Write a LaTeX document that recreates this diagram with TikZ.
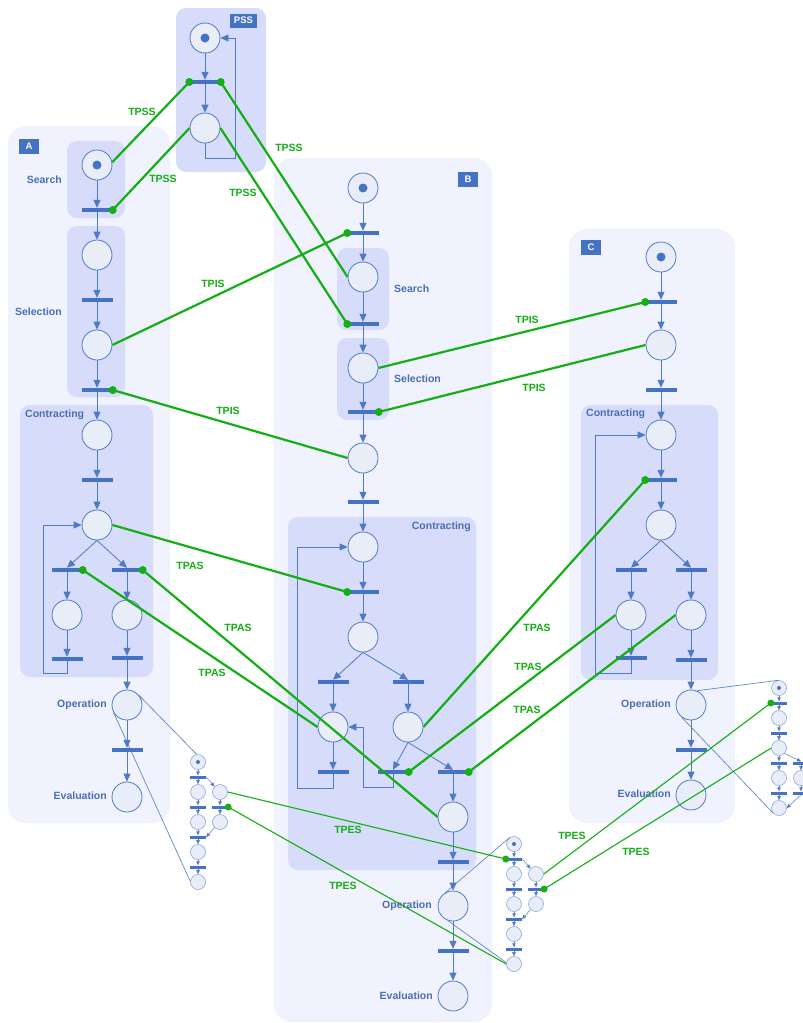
\documentclass[tikz,border=0pt]{standalone}
\usepackage{fontspec}
\setmainfont{Liberation Sans}
\usetikzlibrary{arrows.meta}
\definecolor{panelbg}{RGB}{240,242,253}
\definecolor{groupbg}{RGB}{214,220,250}
\definecolor{pfill}{RGB}{232,237,247}
\definecolor{pborder}{RGB}{79,122,198}
\definecolor{mborder}{RGB}{140,168,218}
\definecolor{tblue}{RGB}{68,114,196}
\definecolor{tx}{RGB}{74,110,180}
\definecolor{gr}{RGB}{20,175,20}
\newcommand\miniAB[3]{%
 \node[mplace] (#1p0) at (#2,#3) {};
 \node[mtok] (#1k) at (#2,#3) {};
 \node[mtrans] (#1t1) at (#2,#3+15) {};
 \node[mplace] (#1p1) at (#2,#3+30) {};
 \node[mplace] (#1q1) at (#2+22,#3+30) {};
 \node[mtrans] (#1t2) at (#2,#3+45) {};
 \node[mtrans] (#1u2) at (#2+22,#3+45) {};
 \node[mplace] (#1p2) at (#2,#3+60) {};
 \node[mplace] (#1q2) at (#2+22,#3+60) {};
 \node[mtrans] (#1t3) at (#2,#3+75) {};
 \node[mplace] (#1p3) at (#2,#3+90) {};
 \node[mtrans] (#1t4) at (#2,#3+105) {};
 \node[mplace] (#1p4) at (#2,#3+120) {};
 \draw[marc] (#1p0) -- (#1t1.north);
 \draw[marc] (#1t1.south) -- (#1p1);
 \draw[marc] (#1p1) -- (#1t2.north);
 \draw[marc] (#1t2.south) -- (#1p2);
 \draw[marc] (#1p2) -- (#1t3.north);
 \draw[marc] (#1t3.south) -- (#1p3);
 \draw[marc] (#1p3) -- (#1t4.north);
 \draw[marc] (#1t4.south) -- (#1p4);
 \draw[marc] (#1t1.east) -- (#1q1.north west);
 \draw[marc] (#1q1) -- (#1u2.north);
 \draw[marc] (#1u2.south) -- (#1q2);
 \draw[marc] (#1q2.south west) -- (#1t3.east);
}
\begin{document}
\begin{tikzpicture}[x=1pt,y=-1pt,
 panel/.style={fill=panelbg, rounded corners=18pt},
 group/.style={fill=groupbg, rounded corners=10pt},
 place/.style={circle, draw=pborder, fill=pfill, line width=0.8pt, minimum size=30pt, inner sep=0pt},
 tok/.style={circle, fill=tblue, minimum size=9pt, inner sep=0pt},
 trans/.style={rectangle, fill=tblue, minimum width=31pt, minimum height=4pt, inner sep=0pt},
 mplace/.style={circle, draw=mborder, fill=pfill, line width=0.6pt, minimum size=15pt, inner sep=0pt},
 mtok/.style={circle, fill=tblue, minimum size=4pt, inner sep=0pt},
 mtrans/.style={rectangle, fill=tblue, minimum width=16pt, minimum height=3pt, inner sep=0pt},
 arc/.style={draw=pborder, line width=0.8pt, -{Triangle[length=8pt,width=7pt]}},
 marc/.style={draw=pborder, line width=0.5pt, -{Triangle[length=4pt,width=3.5pt]}},
 refl/.style={draw=pborder, line width=0.6pt},
 gl/.style={draw=gr, line width=2.2pt},
 gthin/.style={draw=gr, line width=1.1pt},
 gdot/.style={circle, fill=gr, minimum size=8pt, inner sep=0pt},
 mgdot/.style={circle, fill=gr, minimum size=7pt, inner sep=0pt},
 glab/.style={text=gr, inner sep=0pt, font=\fontsize{10.5}{12}\selectfont\bfseries},
 blab/.style={text=tx, inner sep=0pt, font=\fontsize{10.5}{12}\selectfont\bfseries},
 tag/.style={fill=tblue, text=white, inner sep=0pt, minimum width=20pt, minimum height=15pt, font=\fontsize{9.5}{11}\selectfont\bfseries}
]
\useasboundingbox (0,0) rectangle (803,1023);
\fill[white] (0,0) rectangle (803,1023);
% panels
\fill[panel] (8,126) rectangle (170,823);
\fill[panel] (274,158) rectangle (492,1022);
\fill[panel] (569,229) rectangle (735,823);
\fill[group] (176,8) rectangle (266,172);
% groups
\fill[group] (67,141) rectangle (125,218);
\fill[group] (67,226) rectangle (125,397);
\fill[group] (20,405) rectangle (153,677);
\fill[group] (337,248) rectangle (389,330);
\fill[group] (337,338) rectangle (389,420);
\fill[group] (288,517) rectangle (476,870);
\fill[group] (581,405) rectangle (718,680);
% tags
\node[tag, minimum width=27pt, minimum height=14pt] (tpss) at (243.5,20.5) {PSS};
\node[tag] (ta) at (29,146.5) {A};
\node[tag] (tb) at (468,179) {B};
\node[tag] (tc) at (591,247) {C};
% labels
\node[blab, anchor=east] (la1) at (62,180) {Search};
\node[blab, anchor=east] (la2) at (62,312) {Selection};
\node[blab, anchor=west] (la3) at (25,415) {Contracting};
\node[blab, anchor=east] (la4) at (107,705) {Operation};
\node[blab, anchor=east] (la5) at (107,796) {Evaluation};
\node[blab, anchor=west] (lb1) at (394,289) {Search};
\node[blab, anchor=west] (lb2) at (394,379) {Selection};
\node[blab, anchor=east] (lb3) at (471,527) {Contracting};
\node[blab, anchor=east] (lb4) at (432,906) {Operation};
\node[blab, anchor=east] (lb5) at (433,996) {Evaluation};
\node[blab, anchor=west] (lc3) at (586,414) {Contracting};
\node[blab, anchor=east] (lc4) at (671,705) {Operation};
\node[blab, anchor=east] (lc5) at (671,794) {Evaluation};
% PSS net
\node[place] (s1) at (205,38) {};
\node[tok] (sk) at (205,38) {};
\node[trans] (st1) at (205,82) {};
\node[place] (s2) at (205,128) {};
\draw[arc] (s1) -- (st1.north);
\draw[arc] (st1.south) -- (s2);
\draw[arc] (s2.south) -- (205,158) -- (235,158) -- (235,38) -- (s1.east);
% A net
\node[place] (a1) at (97,165) {};
\node[tok] (ak) at (97,165) {};
\node[trans] (at1) at (97,210) {};
\node[place] (a2) at (97,255) {};
\node[trans] (at2) at (97,300) {};
\node[place] (a3) at (97,345) {};
\node[trans] (at3) at (97,390) {};
\node[place] (a4) at (97,435) {};
\node[trans] (at4) at (97,480) {};
\node[place] (a5) at (97,525) {};
\node[trans] (at5l) at (67,570) {};
\node[trans] (at5r) at (127,570) {};
\node[place] (a6) at (67,615) {};
\node[place] (a7) at (127,615) {};
\node[trans] (at7) at (67,659) {};
\node[trans] (at8) at (127,658) {};
\node[place] (a8) at (127,705) {};
\node[trans] (at9) at (127,750) {};
\node[place] (a9) at (127,797) {};
\draw[arc] (a1) -- (at1.north);
\draw[arc] (at1.south) -- (a2);
\draw[arc] (a2) -- (at2.north);
\draw[arc] (at2.south) -- (a3);
\draw[arc] (a3) -- (at3.north);
\draw[arc] (at3.south) -- (a4);
\draw[arc] (a4) -- (at4.north);
\draw[arc] (at4.south) -- (a5);
\draw[arc] (a5.south) -- (at5l.north);
\draw[arc] (a5.south) -- (at5r.north);
\draw[arc] (at5l.south) -- (a6);
\draw[arc] (at5r.south) -- (a7);
\draw[arc] (a6) -- (at7.north);
\draw[arc] (a7) -- (at8.north);
\draw[arc] (at8.south) -- (a8);
\draw[arc] (a8) -- (at9.north);
\draw[arc] (at9.south) -- (a9);
\draw[arc] (at7.south) -- (67,673) -- (43,673) -- (43,525) -- (a5.west);
% B net
\node[place] (b1) at (363,188) {};
\node[tok] (bk) at (363,188) {};
\node[trans] (bt1) at (363,233) {};
\node[place] (b2) at (363,277) {};
\node[trans] (bt2) at (363,324) {};
\node[place] (b3) at (363,368) {};
\node[trans] (bt3) at (363,412) {};
\node[place] (b4) at (363,458) {};
\node[trans] (bt4) at (363,502) {};
\node[place] (b5) at (363,547) {};
\node[trans] (bt5) at (363,592) {};
\node[place] (b6) at (363,637) {};
\node[trans] (bt6l) at (333,682) {};
\node[trans] (bt6r) at (408,682) {};
\node[place] (b7) at (333,727) {};
\node[place] (b8) at (408,727) {};
\node[trans] (bt7) at (333,772) {};
\node[trans] (bt8) at (393,772) {};
\node[trans] (bt9) at (453,772) {};
\node[place] (b9) at (453,817) {};
\node[trans] (bt10) at (453,862) {};
\node[place] (b10) at (453,906) {};
\node[trans] (bt11) at (453,951) {};
\node[place] (b11) at (453,996) {};
\draw[arc] (b1) -- (bt1.north);
\draw[arc] (bt1.south) -- (b2);
\draw[arc] (b2) -- (bt2.north);
\draw[arc] (bt2.south) -- (b3);
\draw[arc] (b3) -- (bt3.north);
\draw[arc] (bt3.south) -- (b4);
\draw[arc] (b4) -- (bt4.north);
\draw[arc] (bt4.south) -- (b5);
\draw[arc] (b5) -- (bt5.north);
\draw[arc] (bt5.south) -- (b6);
\draw[arc] (b6.south) -- (bt6l.north);
\draw[arc] (b6.south) -- (bt6r.north);
\draw[arc] (bt6l.south) -- (b7);
\draw[arc] (bt6r.south) -- (b8);
\draw[arc] (b7) -- (bt7.north);
\draw[arc] (b8.south) -- (bt8.north);
\draw[arc] (b8.south) -- (bt9.north);
\draw[arc] (bt9.south) -- (b9);
\draw[arc] (b9) -- (bt10.north);
\draw[arc] (bt10.south) -- (b10);
\draw[arc] (b10) -- (bt11.north);
\draw[arc] (bt11.south) -- (b11);
\draw[arc] (bt7.south) -- (333,788) -- (297,788) -- (297,547) -- (b5.west);
\draw[arc] (bt8.south) -- (393,787) -- (363,787) -- (363,727) -- (b7.east);
% C net
\node[place] (c1) at (661,257) {};
\node[tok] (ck) at (661,257) {};
\node[trans] (ct1) at (661,302) {};
\node[place] (c2) at (661,345) {};
\node[trans] (ct2) at (661,390) {};
\node[place] (c3) at (661,435) {};
\node[trans] (ct3) at (661,480) {};
\node[place] (c4) at (661,525) {};
\node[trans] (ct4l) at (631,570) {};
\node[trans] (ct4r) at (691,570) {};
\node[place] (c5) at (631,615) {};
\node[place] (c6) at (691,615) {};
\node[trans] (ct5) at (631,658) {};
\node[trans] (ct6) at (691,660) {};
\node[place] (c7) at (691,705) {};
\node[trans] (ct7) at (691,750) {};
\node[place] (c8) at (691,795) {};
\draw[arc] (c1) -- (ct1.north);
\draw[arc] (ct1.south) -- (c2);
\draw[arc] (c2) -- (ct2.north);
\draw[arc] (ct2.south) -- (c3);
\draw[arc] (c3) -- (ct3.north);
\draw[arc] (ct3.south) -- (c4);
\draw[arc] (c4.south) -- (ct4l.north);
\draw[arc] (c4.south) -- (ct4r.north);
\draw[arc] (ct4l.south) -- (c5);
\draw[arc] (ct4r.south) -- (c6);
\draw[arc] (c5) -- (ct5.north);
\draw[arc] (c6) -- (ct6.north);
\draw[arc] (ct6.south) -- (c7);
\draw[arc] (c7) -- (ct7.north);
\draw[arc] (ct7.south) -- (c8);
\draw[arc] (ct5.south) -- (631,673) -- (595,673) -- (595,435) -- (c3.west);
% mini nets
\miniAB{mA}{198}{762}
\miniAB{mB}{514}{844}
\node[mplace] (mCp0) at (779,688) {};
\node[mtok] (mCk) at (779,688) {};
\node[mtrans] (mCt1) at (779,703) {};
\node[mplace] (mCp1) at (779,718) {};
\node[mtrans] (mCt2) at (779,733) {};
\node[mplace] (mCp2) at (779,748) {};
\node[mtrans] (mCt3) at (779,763) {};
\node[mtrans] (mCu3) at (801,763) {};
\node[mplace] (mCp3) at (779,778) {};
\node[mplace] (mCq3) at (801,778) {};
\node[mtrans] (mCt4) at (779,793) {};
\node[mtrans] (mCu4) at (801,793) {};
\node[mplace] (mCp4) at (779,808) {};
\draw[marc] (mCp0) -- (mCt1.north);
\draw[marc] (mCt1.south) -- (mCp1);
\draw[marc] (mCp1) -- (mCt2.north);
\draw[marc] (mCt2.south) -- (mCp2);
\draw[marc] (mCp2) -- (mCt3.north);
\draw[marc] (mCt3.south) -- (mCp3);
\draw[marc] (mCp3) -- (mCt4.north);
\draw[marc] (mCt4.south) -- (mCp4);
\draw[marc] (mCp2.south east) -- (mCu3.north);
\draw[marc] (mCu3.south) -- (mCq3);
\draw[marc] (mCq3) -- (mCu4.north);
\draw[marc] (mCu4.south) -- (mCp4.east);
% refinement lines
\draw[refl] (a8.40) -- (mAp0.100);
\draw[refl] (a8.210) -- (mAp4.175);
\draw[refl] (b10.120) -- (mBp0.124);
\draw[refl] (b10.250) -- (mBp4.170);
\draw[refl] (c7.68) -- (mCp0.north);
\draw[refl] (c7.233) -- (mCp4.220);
% green connectors
\draw[gl] (st1.west) -- (a1.10);
\draw[gl] (s2.west) -- (at1.east);
\draw[gl] (st1.east) -- (b2.west);
\draw[gl] (s2.east) -- (bt2.west);
\draw[gl] (a3.east) -- (bt1.west);
\draw[gl] (at3.east) -- (b4.west);
\draw[gl] (b3.east) -- (ct1.west);
\draw[gl] (bt3.east) -- (c2.west);
\draw[gl] (a5.east) -- (bt5.west);
\draw[gl] (at5l.east) -- (b7.west);
\draw[gl] (at5r.east) -- (b9.west);
\draw[gl] (b8.east) -- (ct3.west);
\draw[gl] (bt8.east) -- (c5.west);
\draw[gl] (bt9.east) -- (c6.west);
\draw[gthin] (mAq1.east) -- (mBt1.west);
\draw[gthin] (mAu2.east) -- (mBp4.west);
\draw[gthin] (mBq1.east) -- (mCt1.west);
\draw[gthin] (mBu2.east) -- (mCp2.west);
% green dots
\node[gdot] (g1) at (st1.west) {};
\node[gdot] (g2) at (st1.east) {};
\node[gdot] (g3) at (at1.east) {};
\node[gdot] (g4) at (at3.east) {};
\node[gdot] (g5) at (at5l.east) {};
\node[gdot] (g6) at (at5r.east) {};
\node[gdot] (g7) at (bt1.west) {};
\node[gdot] (g8) at (bt2.west) {};
\node[gdot] (g9) at (bt3.east) {};
\node[gdot] (g10) at (bt5.west) {};
\node[gdot] (g11) at (bt8.east) {};
\node[gdot] (g12) at (bt9.east) {};
\node[gdot] (g13) at (ct1.west) {};
\node[gdot] (g14) at (ct3.west) {};
\node[mgdot] (g15) at (mAu2.east) {};
\node[mgdot] (g16) at (mBt1.west) {};
\node[mgdot] (g17) at (mBu2.east) {};
\node[mgdot] (g18) at (mCt1.west) {};
% green labels
\node[glab] (l1) at (142,112) {TPSS};
\node[glab] (l2) at (163,179) {TPSS};
\node[glab] (l3) at (289,148) {TPSS};
\node[glab] (l4) at (243,193) {TPSS};
\node[glab] (l5) at (213,284) {TPIS};
\node[glab] (l6) at (228,411) {TPIS};
\node[glab] (l7) at (527,320) {TPIS};
\node[glab] (l8) at (534,388) {TPIS};
\node[glab] (l9) at (190,566) {TPAS};
\node[glab] (l10) at (238,628) {TPAS};
\node[glab] (l11) at (212,673) {TPAS};
\node[glab] (l12) at (537,628) {TPAS};
\node[glab] (l13) at (528,667) {TPAS};
\node[glab] (l14) at (527,710) {TPAS};
\node[glab] (l15) at (348,830) {TPES};
\node[glab] (l16) at (343,886) {TPES};
\node[glab] (l17) at (572,836) {TPES};
\node[glab] (l18) at (636,852) {TPES};
\end{tikzpicture}
\end{document}
